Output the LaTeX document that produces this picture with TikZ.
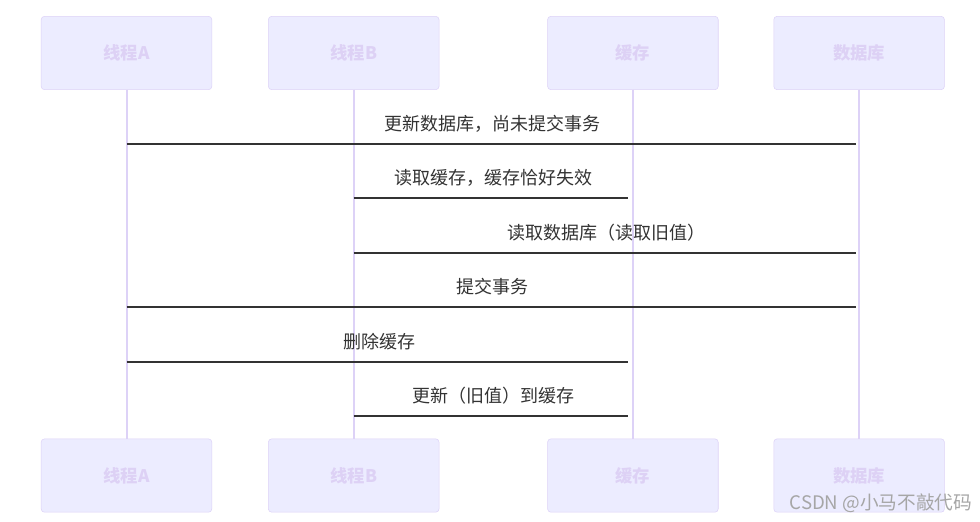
\documentclass[tikz,border=0pt]{standalone}
\usepackage{fontspec}
\setmainfont{Noto Sans CJK SC}
\usepackage{xcolor}
\usetikzlibrary{positioning}
\definecolor{actfill}{HTML}{ECECFF}
\definecolor{actline}{HTML}{DDD2F7}
\definecolor{acttext}{HTML}{DDD1F5}
\definecolor{msgline}{HTML}{333333}
\begin{document}
\begin{tikzpicture}[x=0.75pt,y=-0.75pt,font=\fontsize{13.5}{16}\selectfont,
  actor/.style={draw=actline,fill=actfill,rounded corners=2.5pt,minimum width=128pt,minimum height=55pt,text=acttext,font=\fontsize{13}{15}\selectfont\bfseries},
  life/.style={draw=actline,line width=1.5pt},
  msg/.style={draw=msgline,line width=1pt},
  lbl/.style={midway,yshift=15pt,text=msgline}]
\fill[white] (0,0) rectangle (980,521);
\useasboundingbox (0,0) rectangle (980,521);
% participants, top row
\node[actor] (ta) at (126.5,53) {线程A};
\node[actor,right=42pt of ta] (tb) {线程B};
\node[actor,right=81pt of tb] (tc) {缓存};
\node[actor,right=41.25pt of tc] (td) {数据库};
% participants, bottom row
\node[actor,below=261.5pt of ta] (ba) {线程A};
\node[actor,below=261.5pt of tb] (bb) {线程B};
\node[actor,below=261.5pt of tc] (bc) {缓存};
\node[actor,below=261.5pt of td] (bd) {数据库};
% lifelines
\draw[life] (ta) -- (ba);
\draw[life] (tb) -- (bb);
\draw[life] (tc) -- (bc);
\draw[life] (td) -- (bd);
% messages
\draw[msg,shorten >=2.5pt] (ta |- 0,144) -- node[lbl]{更新数据库，尚未提交事务} (td |- 0,144);
\draw[msg,shorten >=3.5pt] (tb |- 0,198) -- node[lbl]{读取缓存，缓存恰好失效} (tc |- 0,198);
\draw[msg,shorten >=2.5pt] (tb |- 0,253) -- node[lbl]{读取数据库（读取旧值）} (td |- 0,253);
\draw[msg,shorten >=2.5pt] (ta |- 0,307) -- node[lbl]{提交事务} (td |- 0,307);
\draw[msg,shorten >=3.5pt] (ta |- 0,362) -- node[lbl]{删除缓存} (tc |- 0,362);
\draw[msg,shorten >=3.5pt] (tb |- 0,416) -- node[lbl]{更新（旧值）到缓存} (tc |- 0,416);
% watermark
\node[anchor=east,text=black!35,font=\fontsize{14}{16}\selectfont] (wm) at (977,503) {CSDN @小马不敲代码};
\end{tikzpicture}
\end{document}
